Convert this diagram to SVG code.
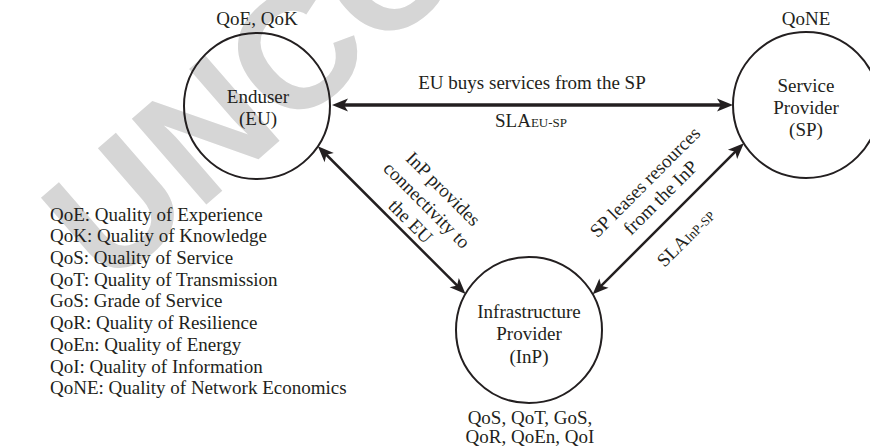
<svg xmlns="http://www.w3.org/2000/svg" width="870" height="447" viewBox="0 0 870 447">
<style>
text{font-family:"Liberation Serif","Times New Roman",serif;font-size:19px;fill:#231f20}
.c{text-anchor:middle}
.sub{font-size:13px}
.node{fill:none;stroke:#231f20;stroke-width:2}
.wm{font-family:"Liberation Sans",Arial,sans-serif;font-weight:bold;font-size:165px;fill:#d6d6d6}
.thick{stroke:#231f20;stroke-width:3.5;fill:none}
.thin{stroke:#231f20;stroke-width:2.5;fill:none}
</style>
<defs>
<marker id="ah" markerUnits="userSpaceOnUse" viewBox="-12 -7 20 14" refX="0" refY="0" markerWidth="20" markerHeight="14" orient="auto-start-reverse">
<path d="M6,0 L-10,-6.5 L-6,0 L-10,6.5 Z" fill="#231f20"/>
</marker>
</defs>
<rect width="870" height="447" fill="#fff"/>
<g id="watermark"><text class="wm" transform="translate(108,290) rotate(-41)">UNCO</text></g>
<g id="connectors">
<line class="thick" x1="338" y1="105" x2="727" y2="105" marker-start="url(#ah)" marker-end="url(#ah)"/>
<line class="thin" x1="322.1" y1="150.5" x2="461.3" y2="289.7" marker-start="url(#ah)" marker-end="url(#ah)"/>
<line class="thin" x1="739.6" y1="147.4" x2="596.9" y2="290.1" marker-start="url(#ah)" marker-end="url(#ah)"/>
<text class="c" x="532" y="89">EU buys services from the SP</text>
<text class="c" x="531" y="127">SLA<tspan class="sub">EU-SP</tspan></text>
<g transform="translate(426,206) rotate(45)">
<text class="c" x="0" y="-18">InP provides</text>
<text class="c" x="0" y="5">connectivity to</text>
<text class="c" x="0" y="28">the EU</text>
</g>
<g transform="translate(653,190) rotate(-45)">
<text class="c" x="0" y="-5">SP leases resources</text>
<text class="c" x="0" y="17">from the InP</text>
</g>
<text class="c" transform="translate(686,238) rotate(-45)" x="0" y="6">SLA<tspan class="sub">InP-SP</tspan></text>
</g>
<g id="eu">
<circle class="node" cx="257" cy="106" r="73"/>
<text class="c" x="257" y="25">QoE, QoK</text>
<text class="c" x="258" y="103">Enduser</text>
<text class="c" x="258" y="125">(EU)</text>
</g>
<g id="sp">
<circle class="node" cx="806" cy="105" r="73"/>
<text class="c" x="806" y="25">QoNE</text>
<text class="c" x="806" y="92">Service</text>
<text class="c" x="806" y="114">Provider</text>
<text class="c" x="806" y="136">(SP)</text>
</g>
<g id="inp">
<circle class="node" cx="529" cy="330" r="73"/>
<text class="c" x="529" y="318">Infrastructure</text>
<text class="c" x="529" y="340">Provider</text>
<text class="c" x="529" y="363">(InP)</text>
<text class="c" x="530" y="424">QoS, QoT, GoS,</text>
<text class="c" x="530" y="443">QoR, QoEn, QoI</text>
</g>
<g id="legend">
<text x="50" y="221">QoE: Quality of Experience</text>
<text x="50" y="242">QoK: Quality of Knowledge</text>
<text x="50" y="264">QoS: Quality of Service</text>
<text x="50" y="286">QoT: Quality of Transmission</text>
<text x="50" y="307">GoS: Grade of Service</text>
<text x="50" y="329">QoR: Quality of Resilience</text>
<text x="50" y="351">QoEn: Quality of Energy</text>
<text x="50" y="373">QoI: Quality of Information</text>
<text x="50" y="394">QoNE: Quality of Network Economics</text>
</g>
</svg>
